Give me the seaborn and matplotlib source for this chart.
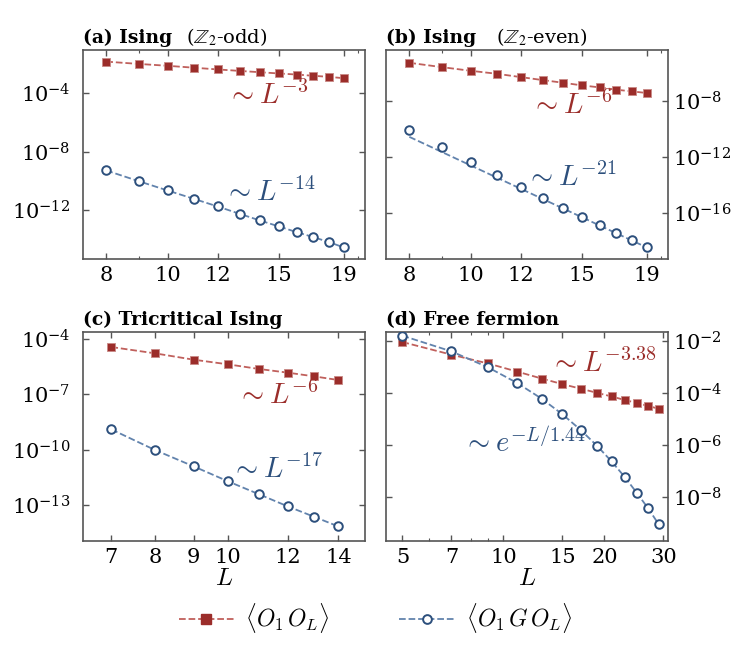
import numpy as np
import pandas as pd
import matplotlib
matplotlib.use("Agg")
import matplotlib.pyplot as plt
import seaborn as sns
from matplotlib.lines import Line2D
from matplotlib.font_manager import FontProperties
from matplotlib.ticker import NullFormatter, NullLocator

# ---------------- data ----------------
L_ab = [8, 9, 10, 11, 12, 13, 14, 15, 16, 17, 18, 19]
L_c = [7, 8, 9, 10, 11, 12, 13, 14]
L_d = [5, 7, 9, 11, 13, 15, 17, 19, 21, 23, 25, 27, 29]

a_red = [1.46e-2, 1.02e-2, 7.59e-3, 5.62e-3, 4.27e-3, 3.39e-3, 2.75e-3, 2.26e-3,
         1.91e-3, 1.57e-3, 1.33e-3, 1.07e-3]
a_blue = [5.15e-10, 9.61e-11, 2.21e-11, 5.96e-12, 1.78e-12, 5.61e-13, 1.96e-13,
          7.64e-14, 3.13e-14, 1.43e-14, 6.49e-15, 2.80e-15]

b_red = [5.69e-6, 2.80e-6, 1.53e-6, 9.35e-7, 5.42e-7, 3.31e-7, 2.14e-7, 1.38e-7,
         9.95e-8, 6.78e-8, 5.16e-8, 3.93e-8]
b_blue = [9.57e-11, 5.27e-12, 4.50e-13, 5.05e-14, 7.45e-15, 1.29e-15, 2.51e-16,
          5.73e-17, 1.46e-17, 3.93e-18, 1.18e-18, 3.54e-19]
b_blue_fit_L = [8, 19]
b_blue_fit = [2.88e-11, 3.55e-19]

c_red = [3.68e-5, 1.67e-5, 7.57e-6, 4.23e-6, 2.36e-6, 1.50e-6, 9.46e-7, 5.98e-7]
c_blue = [1.26e-9, 9.59e-11, 1.25e-11, 1.92e-12, 3.78e-13, 8.45e-14, 2.33e-14, 6.97e-15]

d_red = [9.42e-3, 3.07e-3, 1.41e-3, 6.84e-4, 3.72e-4, 2.26e-4, 1.51e-4, 1.05e-4,
         7.59e-5, 5.56e-5, 4.27e-5, 3.27e-5, 2.57e-5]
d_blue = [1.65e-2, 4.12e-3, 1.00e-3, 2.49e-4, 6.24e-5, 1.56e-5, 3.89e-6, 9.70e-7,
          2.43e-7, 6.05e-8, 1.47e-8, 3.78e-9, 9.42e-10]

xticks_ab = [8, 10, 12, 15, 19]
xticks_c = [7, 8, 9, 10, 12, 14]
xticks_d = [5, 7, 10, 15, 20, 30]

titles = ["(a) Ising", "(b) Ising", "(c) Tricritical Ising", "(d) Free fermion"]
subtitles = [r"($\mathbb{Z}_2$-odd)", r"($\mathbb{Z}_2$-even)", None, None]
red_labels = [r"$\sim L^{-3}$", r"$\sim L^{-6}$", r"$\sim L^{-6}$", r"$\sim L^{-3.38}$"]
blue_labels = [r"$\sim L^{-14}$", r"$\sim L^{-21}$", r"$\sim L^{-17}$", r"$\sim e^{-L/1.44}$"]
legend_labels = [r"$\langle O_1\, O_L\rangle$", r"$\langle O_1\, G\, O_L\rangle$"]

# ---------------- style ----------------
sns.set_style("ticks")
plt.rcParams['font.family'] = ['DejaVu Serif', 'DejaVu Sans']
plt.rcParams['mathtext.fontset'] = 'dejavuserif'
plt.rcParams['text.color'] = 'black'
plt.rcParams['axes.labelcolor'] = 'black'
plt.rcParams['xtick.labelcolor'] = 'black'
plt.rcParams['ytick.labelcolor'] = 'black'

RED = "#9b2d2a"
RED_EDGE = "#c98a86"
BLUE = "#2c4f7c"
RED_LINE = "#c0605c"
BLUE_LINE = "#6283ad"
SPINE = "#555555"

fig, axes = plt.subplots(2, 2, figsize=(7.5, 6.52), dpi=100)
fig.subplots_adjust(left=0.1107, right=0.891, top=0.9233, bottom=0.1702,
                    wspace=0.074, hspace=0.349)
axs = axes.ravel()

panels = [
    dict(L=L_ab, red=a_red, blue=a_blue, fitL=L_ab, fit=a_blue,
         xlim=(7.35, 20.55), ylim=(10**-15.35, 10**-1.04), xt=xticks_ab,
         yt=[1e-4, 1e-8, 1e-12], right=False,
         rpos=(0.512, 0.782), bpos=(0.498, 0.318), sub_x=0.366),
    dict(L=L_ab, red=b_red, blue=b_blue, fitL=b_blue_fit_L, fit=b_blue_fit,
         xlim=(7.35, 20.55), ylim=(10**-19.28, 10**-4.33), xt=xticks_ab,
         yt=[1e-8, 1e-12, 1e-16], right=True,
         rpos=(0.515, 0.733), bpos=(0.497, 0.39), sub_x=0.39),
    dict(L=L_c, red=c_red, blue=c_blue, fitL=L_c, fit=c_blue,
         xlim=(6.42, 15.2), ylim=(10**-14.95, 10**-3.62), xt=xticks_c,
         yt=[1e-4, 1e-7, 1e-10, 1e-13], right=False,
         rpos=(0.545, 0.696), bpos=(0.525, 0.344), sub_x=None),
    dict(L=L_d, red=d_red, blue=d_blue, fitL=L_d, fit=d_blue,
         xlim=(4.47, 31.0), ylim=(10**-9.68, 10**-1.64), xt=xticks_d,
         yt=[1e-2, 1e-4, 1e-6, 1e-8], right=True,
         rpos=(0.58, 0.847), bpos=(0.272, 0.469), sub_x=None),
]

for i, (ax, p) in enumerate(zip(axs, panels)):
    ax.set_xscale('log')
    ax.set_yscale('log')
    sns.lineplot(x=p['L'], y=p['red'], ax=ax, color=RED_LINE, linestyle='--',
                 lw=1.3, zorder=2, estimator=None, sort=False)
    sns.lineplot(x=p['fitL'], y=p['fit'], ax=ax, color=BLUE_LINE, linestyle='--',
                 lw=1.3, zorder=2, estimator=None, sort=False)
    sns.scatterplot(x=p['L'], y=p['red'], ax=ax, marker='s', s=40, color=RED,
                    edgecolor=RED_EDGE, linewidth=0.6, zorder=3)
    sns.scatterplot(x=p['L'], y=p['blue'], ax=ax, marker='o', s=38,
                    facecolor='white', edgecolor=BLUE, linewidth=1.4, zorder=4)

    ax.set_xlim(*p['xlim'])
    ax.set_ylim(*p['ylim'])
    ax.set_xticks(p['xt'])
    ax.set_xticklabels([str(t) for t in p['xt']])
    ax.xaxis.set_minor_formatter(NullFormatter())
    ax.set_yticks(p['yt'])
    ax.yaxis.set_minor_locator(NullLocator())

    for s in ax.spines.values():
        s.set_color(SPINE)
        s.set_linewidth(1.2)
    ax.tick_params(which='both', direction='in', top=True, right=True,
                   left=True, bottom=True, color=SPINE, labelsize=15,
                   labelcolor='black')
    ax.tick_params(which='major', length=4, width=1)
    ax.tick_params(which='minor', length=2.5, width=0.8)
    ax.tick_params(axis='x', pad=5)
    if p['right']:
        ax.tick_params(axis='y', labelleft=False, labelright=True, pad=3.5)
    else:
        ax.tick_params(axis='y', pad=9)

    ax.text(0.0, 1.033, titles[i], transform=ax.transAxes, fontsize=13.5,
            fontweight='bold', va='baseline', ha='left', color='black')
    if subtitles[i] is not None:
        ax.text(p['sub_x'], 1.033, subtitles[i], transform=ax.transAxes,
                fontsize=14, va='baseline', ha='left', math_fontfamily='stix',
                color='black')

    ax.text(p['rpos'][0], p['rpos'][1], red_labels[i], transform=ax.transAxes,
            color=RED, fontsize=20.5, ha='left', va='center', math_fontfamily='cm')
    ax.text(p['bpos'][0], p['bpos'][1], blue_labels[i], transform=ax.transAxes,
            color=BLUE, fontsize=20.5, ha='left', va='center', math_fontfamily='cm')

    if i >= 2:
        ax.set_xlabel(r"$L$", fontsize=18, math_fontfamily='cm', labelpad=0,
                      color='black')
    else:
        ax.set_xlabel("")
    ax.set_ylabel("")

handles = [
    Line2D([], [], color=RED_LINE, linestyle='--', lw=1.3, marker='s',
           markersize=7, markerfacecolor=RED, markeredgecolor=RED),
    Line2D([], [], color=BLUE_LINE, linestyle='--', lw=1.3, marker='o',
           markersize=6.3, markerfacecolor='white', markeredgecolor=BLUE,
           markeredgewidth=1.4),
]
fig.legend(handles, legend_labels, loc='center', bbox_to_anchor=(0.5, 1 - 618 / 652),
           ncol=2, frameon=False, handlelength=2.35, handletextpad=0.45,
           columnspacing=3.0, numpoints=1,
           prop=FontProperties(size=17, math_fontfamily='cm'))

fig.savefig("out.png", dpi=100)
